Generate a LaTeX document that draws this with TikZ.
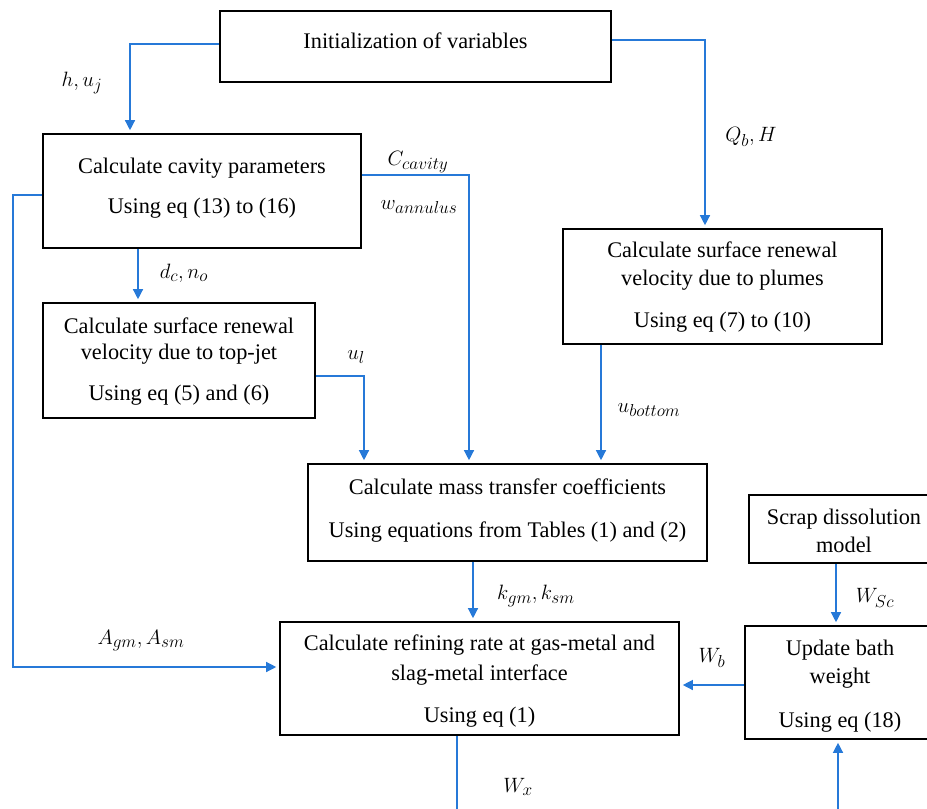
\documentclass[tikz,border=0pt]{standalone}
\usepackage{fontspec}
\setmainfont{Liberation Serif}
\DeclareMathSizes{21}{21}{17.28}{12}
\usetikzlibrary{arrows.meta}
\definecolor{lineblue}{RGB}{38,121,216}
\begin{document}
\begin{tikzpicture}[x=1pt,y=-1pt,
  box/.style={draw=black, line width=1.6pt, inner sep=0pt},
  txt/.style={anchor=base, inner sep=0pt, font=\fontsize{22.3}{25}\selectfont},
  conn/.style={draw=lineblue, line width=1.3pt, -{Triangle[length=10pt,width=10pt]}, shorten >=3pt},
  plainline/.style={draw=lineblue, line width=1.3pt},
  lbl/.style={inner sep=0pt, font=\fontsize{21}{25}\selectfont}]
\useasboundingbox (0,0) rectangle (927,809);

% boxes
\node[box, minimum width=391pt, minimum height=71pt] (init) at (415.5,46.5) {};
\node[box, minimum width=318pt, minimum height=114pt] (cavity) at (202,191) {};
\node[box, minimum width=272pt, minimum height=115pt] (topjet) at (179,360.5) {};
\node[box, minimum width=319pt, minimum height=115pt] (plume) at (722.5,286.5) {};
\node[box, minimum width=399pt, minimum height=97pt] (mass) at (507.5,512.5) {};
\node[box, minimum width=399pt, minimum height=113pt] (refine) at (479.5,678.5) {};
\node[box, minimum width=188pt, minimum height=68pt] (scrap) at (843,529) {};
\node[box, minimum width=190pt, minimum height=113pt] (update) at (840,682.5) {};

% box texts
\node[txt] (initA) at (415.5,48.5) {Initialization of variables};
\node[txt] (cavA) at (202,173.5) {Calculate cavity parameters};
\node[txt] (cavB) at (202,213.5) {Using eq (13) to (16)};
\node[txt] (topA) at (179,333.5) {Calculate surface renewal};
\node[txt] (topB) at (179,359.5) {velocity due to top-jet};
\node[txt] (topC) at (179,400.5) {Using eq (5) and (6)};
\node[txt] (plA) at (722.5,257.5) {Calculate surface renewal};
\node[txt] (plB) at (722.5,285.5) {velocity due to plumes};
\node[txt] (plC) at (722.5,327.5) {Using eq (7) to (10)};
\node[txt] (msA) at (507.5,494.5) {Calculate mass transfer coefficients};
\node[txt] (msB) at (507.5,537.5) {Using equations from Tables (1) and (2)};
\node[txt] (rfA) at (479.5,650.5) {Calculate refining rate at gas-metal and};
\node[txt] (rfB) at (479.5,680.5) {slag-metal interface};
\node[txt] (rfC) at (479.5,722.5) {Using eq (1)};
\node[txt] (scA) at (844,524.5) {Scrap dissolution};
\node[txt] (scB) at (844,552.5) {model};
\node[txt] (upA) at (840,655.5) {Update bath};
\node[txt] (upB) at (840,683.5) {weight};
\node[txt] (upC) at (840,727.5) {Using eq (18)};

% helper coordinates
\coordinate (hj) at (130,44);
\coordinate (qb) at (705,40);
\coordinate (cc) at (469,175);
\coordinate (ag) at (13,195);
\coordinate (ag2) at (13,667);
\coordinate (dc) at (138,0);
\coordinate (ul) at (364,376);
\coordinate (ub) at (601,0);
\coordinate (kg) at (473,0);
\coordinate (ws) at (836,0);
\coordinate (wb) at (0,685);
\coordinate (wx) at (457,809);
\coordinate (bu) at (838,809);

% connectors
\draw[conn] (init.west |- hj) -| (cavity.north -| hj);
\draw[conn] (init.east |- qb) -| (plume.north -| qb);
\draw[conn] (cavity.east |- cc) -| (mass.north -| cc);
\draw[conn] (cavity.west |- ag) -- (ag) |- (refine.west |- ag2);
\draw[conn] (cavity.south -| dc) -- (topjet.north -| dc);
\draw[conn] (topjet.east |- ul) -| (mass.north -| ul);
\draw[conn] (plume.south -| ub) -- (mass.north -| ub);
\draw[conn] (mass.south -| kg) -- (refine.north -| kg);
\draw[conn] (scrap.south -| ws) -- (update.north -| ws);
\draw[conn] (update.west |- wb) -- (refine.east |- wb);
\draw[plainline] (refine.south -| wx) -- (wx);
\draw[conn] (bu) -- (update.south -| bu);

% labels
\node[lbl] (l1) at (82,83) {$h, u_j$};
\node[lbl] (l2) at (751,137) {$Q_b, H$};
\node[lbl] (l3) at (418,162) {$C_{cavity}$};
\node[lbl] (l4) at (419,207) {$w_{annulus}$};
\node[lbl] (l5) at (184,273) {$d_c, n_o$};
\node[lbl] (l6) at (356,357) {$u_l$};
\node[lbl] (l7) at (649,410) {$u_{bottom}$};
\node[lbl] (l8) at (141,641) {$A_{gm}, A_{sm}$};
\node[lbl] (l9) at (536,596) {$k_{gm}, k_{sm}$};
\node[lbl] (l10) at (875,598) {$W_{Sc}$};
\node[lbl] (l11) at (712,658) {$W_b$};
\node[lbl] (l12) at (518,787) {$W_x$};
\end{tikzpicture}
\end{document}
